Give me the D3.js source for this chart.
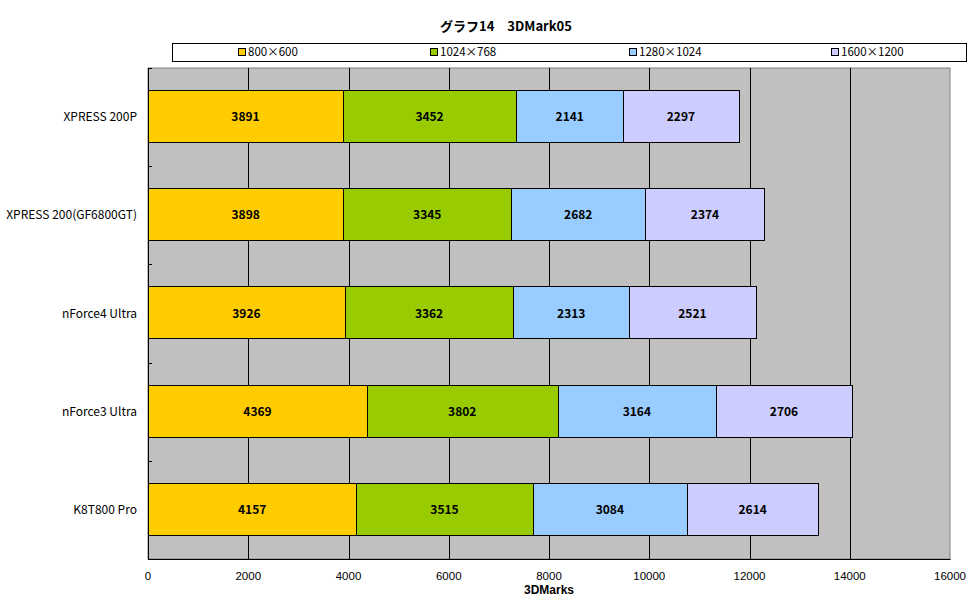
<!DOCTYPE html>
<html>
<head>
<meta charset="utf-8">
<script src="https://cdn.jsdelivr.net/npm/d3@7"></script>
<style>
  body { margin: 0; background: #fff; }
  text { font-family: "Noto Sans CJK JP", "DejaVu Sans", sans-serif; fill: #000; }
  .axis-lbl { font-family: "Liberation Sans", Arial, sans-serif; }
</style>
</head>
<body>
<div id="chart"></div>
<script>
/** chart data */
const chipsets = ["XPRESS 200P", "XPRESS 200(GF6800GT)", "nForce4 Ultra", "nForce3 Ultra", "K8T800 Pro"];
const resolutions = ["800×600", "1024×768", "1280×1024", "1600×1200"];
const s800 = [3891, 3898, 3926, 4369, 4157];
const s1024 = [3452, 3345, 3362, 3802, 3515];
const s1280 = [2141, 2682, 2313, 3164, 3084];
const s1600 = [2297, 2374, 2521, 2706, 2614];
const xTicks = [0, 2000, 4000, 6000, 8000, 10000, 12000, 14000, 16000];
const colors = ["#FFCC00", "#99CC00", "#99CCFF", "#CCCCFF"];

const W = 972, H = 604;
const plot = { left: 148, right: 950, top: 68, bottom: 559 };

let svg = d3.select('#chart').append('svg')
    .attr('width', W)
    .attr('height', H);

// stacked table built from the arrays
let rows = chipsets.map((c, i) => ({ name: c, r0: s800[i], r1: s1024[i], r2: s1280[i], r3: s1600[i] }));
let stack = d3.stack().keys(["r0", "r1", "r2", "r3"])(rows);

let x = d3.scaleLinear().domain([0, 16000]).range([plot.left, plot.right]);
let y = d3.scaleBand().domain(chipsets)
    .range([plot.top, plot.bottom])
    .paddingInner(0.467)
    .paddingOuter(0.2335);

/** plot background */
svg.append('rect')
    .attr('x', plot.left).attr('y', plot.top)
    .attr('width', plot.right - plot.left)
    .attr('height', plot.bottom - plot.top)
    .attr('fill', '#C0C0C0')
    .attr('stroke', '#808080')
    .attr('stroke-width', 1);

/** gridlines */
svg.append('g')
    .selectAll('line')
    .data(xTicks.slice(1, -1))
    .enter().append('line')
    .attr('x1', d => Math.round(x(d)) + 0.5)
    .attr('x2', d => Math.round(x(d)) + 0.5)
    .attr('y1', plot.top)
    .attr('y2', plot.bottom)
    .attr('stroke', '#000');

/** axes lines */
svg.append('line')
    .attr('x1', plot.left + 0.5).attr('x2', plot.left + 0.5)
    .attr('y1', plot.top).attr('y2', plot.bottom + 0.5)
    .attr('stroke', '#000');
svg.append('line')
    .attr('x1', plot.left).attr('x2', plot.right + 0.5)
    .attr('y1', plot.bottom + 0.5).attr('y2', plot.bottom + 0.5)
    .attr('stroke', '#000');

// category boundary ticks (inside)
let step = y.step();
let bounds = d3.range(chipsets.length + 1).map(i => plot.top + i * step);
svg.append('g')
    .selectAll('line')
    .data(bounds)
    .enter().append('line')
    .attr('x1', plot.left).attr('x2', plot.left + 4)
    .attr('y1', d => Math.round(d) + 0.5)
    .attr('y2', d => Math.round(d) + 0.5)
    .attr('stroke', '#000');

/** bars */
let layers = svg.append('g')
    .selectAll('g')
    .data(stack)
    .enter().append('g')
    .attr('fill', (d, i) => colors[i]);

layers.selectAll('rect')
    .data(d => d)
    .enter().append('rect')
    .attr('x', d => Math.round(x(d[0])) + 0.5)
    .attr('y', d => Math.round(y(d.data.name)) - 0.5)
    .attr('width', d => Math.round(x(d[1])) - Math.round(x(d[0])))
    .attr('height', Math.round(y.bandwidth()))
    .attr('stroke', '#000')
    .attr('stroke-width', 1);

layers.selectAll('text')
    .data(d => d)
    .enter().append('text')
    .attr('x', d => (x(d[0]) + x(d[1])) / 2)
    .attr('y', d => y(d.data.name) + y.bandwidth() / 2 + 4)
    .attr('text-anchor', 'middle')
    .style('font-size', '12px')
    .style('font-weight', 'bold')
    .text(d => d[1] - d[0]);

/** category labels */
svg.append('g')
    .selectAll('text')
    .data(chipsets)
    .enter().append('text')
    .attr('x', 137)
    .attr('y', d => y(d) + y.bandwidth() / 2 + 4)
    .attr('text-anchor', 'end')
    .style('font-size', '12px')
    .text(d => d);

/** x tick labels */
svg.append('g')
    .selectAll('text')
    .data(xTicks)
    .enter().append('text')
    .attr('class', 'axis-lbl')
    .attr('x', d => x(d))
    .attr('y', 580)
    .attr('text-anchor', 'middle')
    .style('font-size', '11.5px')
    .text(d => d);

svg.append('text')
    .attr('class', 'axis-lbl')
    .attr('x', (plot.left + plot.right) / 2)
    .attr('y', 594)
    .attr('text-anchor', 'middle')
    .style('font-size', '12px')
    .style('font-weight', 'bold')
    .text('3DMarks');

/** title */
svg.append('text')
    .attr('x', 506)
    .attr('y', 31)
    .attr('text-anchor', 'middle')
    .style('font-size', '13px')
    .style('font-weight', 'bold')
    .text('グラフ14　3DMark05');

/** legend */
svg.append('rect')
    .attr('x', 172.5).attr('y', 43.5)
    .attr('width', 794).attr('height', 18)
    .attr('fill', '#fff')
    .attr('stroke', '#000');

let legendX = [238, 430, 629, 831];
let leg = svg.append('g')
    .selectAll('g')
    .data(resolutions)
    .enter().append('g')
    .attr('transform', (d, i) => `translate(${legendX[i]}, 52)`);
leg.append('rect')
    .attr('x', 0.5).attr('y', -3.5)
    .attr('width', 7).attr('height', 7)
    .attr('fill', (d, i) => colors[i])
    .attr('stroke', '#000');
leg.append('text')
    .attr('x', 10)
    .attr('y', 4)
    .style('font-size', '11.5px')
    .text(d => d);
</script>
</body>
</html>
